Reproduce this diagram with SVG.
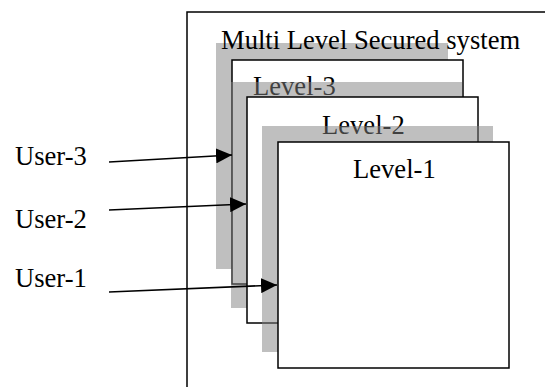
<svg xmlns="http://www.w3.org/2000/svg" width="545" height="387" viewBox="0 0 545 387">
  <style>
    .frame { fill: none; stroke: #000; stroke-width: 1.5; }
    .box { fill: #fff; stroke: #000; stroke-width: 1.5; }
    .shadow { fill: #808080; fill-opacity: 0.5; }
    .lbl { font-family: "Liberation Serif", "Times New Roman", serif; font-size: 26.6px; fill: #000; }
    .conn { stroke: #000; stroke-width: 1.5; fill: none; marker-end: url(#head); }
  </style>
  <defs>
    <marker id="head" markerUnits="userSpaceOnUse" markerWidth="16" markerHeight="15" refX="16" refY="7.5" orient="auto">
      <path d="M0,0 L16,7.5 L0,15 Z" fill="#000"/>
    </marker>
  </defs>
  <rect width="545" height="387" fill="#fff"/>

  <!-- outer system frame (runs past the right and bottom edges) -->
  <g id="system">
    <rect class="frame" x="187" y="12" width="420" height="420"/>
    <rect class="shadow" x="216" y="43" width="232" height="226"/>
    <text class="lbl" x="221" y="49">Multi Level Secured system</text>
  </g>

  <g id="level3">
    <rect class="box" x="232" y="60" width="231" height="224"/>
    <text class="lbl" x="253" y="95">Level-3</text>
  </g>

  <g id="level2">
    <rect class="shadow" x="231" y="82" width="231" height="226"/>
    <rect class="box" x="247" y="97" width="231" height="226"/>
    <text class="lbl" x="322" y="134">Level-2</text>
  </g>

  <g id="level1">
    <rect class="shadow" x="262" y="126" width="231" height="226"/>
    <rect class="box" x="278" y="142" width="231" height="226"/>
    <text class="lbl" x="353" y="178">Level-1</text>
  </g>

  <g id="connectors">
    <line class="conn" x1="109" y1="162" x2="232" y2="155"/>
    <line class="conn" x1="109" y1="210" x2="246" y2="204"/>
    <line class="conn" x1="109" y1="292" x2="277" y2="285"/>
  </g>

  <g id="user3"><text class="lbl" x="15" y="165">User-3</text></g>
  <g id="user2"><text class="lbl" x="15" y="228">User-2</text></g>
  <g id="user1"><text class="lbl" x="15" y="287">User-1</text></g>
</svg>
